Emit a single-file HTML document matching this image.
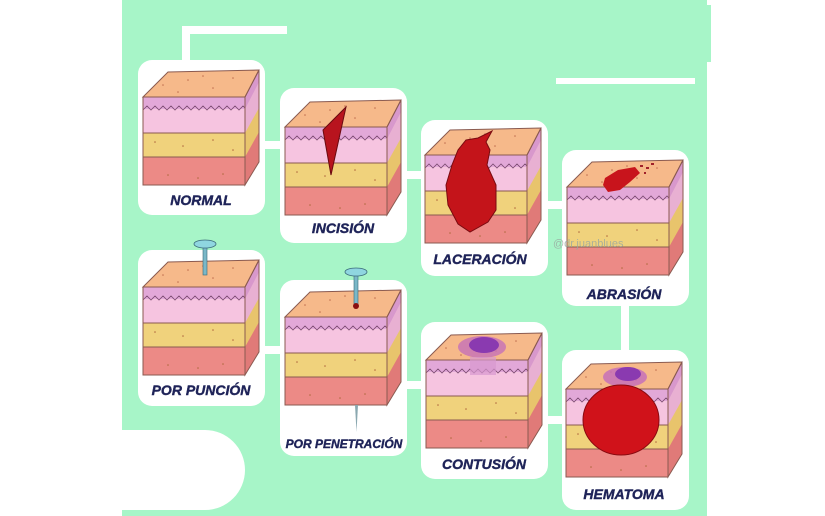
<!DOCTYPE html>
<html><head><meta charset="utf-8"><style>
html,body{margin:0;padding:0;background:#fff;width:825px;height:516px;overflow:hidden}
svg{display:block}
.l{font-family:"Liberation Sans",sans-serif;font-weight:bold;font-style:italic;font-size:14px;fill:#1e2358;stroke:#1e2358;stroke-width:0.4;text-anchor:middle}
</style></head><body>
<svg width="825" height="516" viewBox="0 0 825 516" xmlns="http://www.w3.org/2000/svg">
<defs>
<g id="blk">
  <rect x="0" y="27" width="102" height="88" fill="#ec8a86"/>
  <rect x="0" y="27" width="102" height="60" fill="#f0d27c"/>
  <rect x="0" y="27" width="102" height="36" fill="#f6c4e0"/>
  <rect x="0" y="27" width="102" height="12" fill="#e2a8d8"/>
  <path d="M0 40 l4 -4 4 4 4 -4 4 4 4 -4 4 4 4 -4 4 4 4 -4 4 4 4 -4 4 4 4 -4 4 4 4 -4 4 4 4 -4 4 4 4 -4 4 4 4 -4 4 4 4 -4 4 4 4 -4 4 4 4 -4 4 4" fill="none" stroke="#7a4a70" stroke-width="0.8"/>
  <line x1="0" y1="63" x2="102" y2="63" stroke="#8a5a50" stroke-width="1"/>
  <line x1="0" y1="87" x2="102" y2="87" stroke="#8a5a50" stroke-width="1"/>
  <polygon points="102,27 116,0 116,92 102,115" fill="#e07a78"/>
  <polygon points="102,27 116,0 116,62 102,87" fill="#e8c46c"/>
  <polygon points="102,27 116,0 116,38 102,63" fill="#e8b0d2"/>
  <polygon points="102,27 116,0 116,12 102,39" fill="#d898cc"/>
  <polygon points="0,27 25,2 116,0 102,27" fill="#f6b98a" stroke="#8a5a50" stroke-width="1"/>
  <rect x="0" y="27" width="102" height="88" fill="none" stroke="#8a5a50" stroke-width="1"/>
  <polygon points="102,27 116,0 116,92 102,115" fill="none" stroke="#8a5a50" stroke-width="1"/>
  <g fill="#c07050"><circle cx="20" cy="15" r=".8"/><circle cx="45" cy="10" r=".8"/><circle cx="70" cy="18" r=".8"/><circle cx="90" cy="8" r=".8"/><circle cx="60" cy="6" r=".8"/><circle cx="35" cy="22" r=".8"/></g>
  <g fill="#b06a40"><circle cx="12" cy="72" r=".8"/><circle cx="40" cy="76" r=".8"/><circle cx="70" cy="70" r=".8"/><circle cx="90" cy="80" r=".8"/><circle cx="25" cy="105" r=".8"/><circle cx="55" cy="108" r=".8"/><circle cx="80" cy="104" r=".8"/></g>
</g>
</defs>
<rect x="122" y="0" width="585" height="516" fill="#a7f5c8"/>
<rect x="700" y="5" width="11" height="57" fill="#a7f5c8"/>
<path d="M186 60 V30 H287" fill="none" stroke="#fff" stroke-width="8"/>
<rect x="556" y="78" width="139" height="6" fill="#fff"/>
<path d="M122 430 H205 a40 40 0 0 1 0 80 H122 Z" fill="#fff"/>
<g stroke="#fff" stroke-width="8">
<line x1="262" y1="145" x2="284" y2="145"/>
<line x1="402" y1="175" x2="425" y2="175"/>
<line x1="544" y1="205" x2="566" y2="205"/>
<line x1="262" y1="350" x2="284" y2="350"/>
<line x1="402" y1="385" x2="425" y2="385"/>
<line x1="544" y1="420" x2="566" y2="420"/>
<line x1="625" y1="302" x2="625" y2="353"/>
</g>
<g fill="#fff">
<rect x="138" y="60" width="127" height="155" rx="14"/>
<rect x="280" y="88" width="127" height="155" rx="14"/>
<rect x="421" y="120" width="127" height="156" rx="14"/>
<rect x="562" y="150" width="127" height="156" rx="14"/>
<rect x="138" y="250" width="127" height="156" rx="14"/>
<rect x="280" y="280" width="127" height="176" rx="14"/>
<rect x="421" y="322" width="127" height="157" rx="14"/>
<rect x="562" y="350" width="127" height="160" rx="14"/>
</g>
<use href="#blk" x="143" y="70"/>
<use href="#blk" x="285" y="100"/>
<use href="#blk" x="425" y="128"/>
<use href="#blk" x="567" y="160"/>
<use href="#blk" x="143" y="260"/>
<use href="#blk" x="285" y="290"/>
<use href="#blk" x="426" y="333"/>
<use href="#blk" x="566" y="362"/>
<polygon points="323,130 346,107 331,175" fill="#b8141e" stroke="#6a0a10" stroke-width="1"/>
<path d="M466 140 L478 138 L492 131 L486 142 L490 150 L487 165 L496 185 L496 210 L488 222 L470 232 L458 224 L448 205 L446 185 L452 165 L458 150 Z" fill="#c4141a" stroke="#7a0a10" stroke-width="1"/>
<path d="M605 178 L618 170 L635 167 L640 173 L630 182 L620 190 L608 192 L603 185 Z" fill="#c8141c"/>
<g fill="#a0202a"><rect x="640" y="165" width="3" height="2"/><rect x="646" y="167" width="3" height="2"/><rect x="644" y="172" width="2" height="2"/><rect x="651" y="163" width="3" height="2"/></g>
<rect x="203" y="245" width="4" height="30" fill="#7ab8c8" stroke="#3a6a7a" stroke-width=".6"/>
<ellipse cx="205" cy="244" rx="11" ry="4" fill="#8fd6e0" stroke="#3a6a7a" stroke-width=".8"/>
<rect x="354" y="272" width="4" height="32" fill="#7ab8c8" stroke="#3a6a7a" stroke-width=".6"/>
<ellipse cx="356" cy="272" rx="11" ry="4" fill="#8fd6e0" stroke="#3a6a7a" stroke-width=".8"/>
<circle cx="356" cy="306" r="3" fill="#8a1010"/>
<polygon points="355,405 358,405 356.5,432" fill="#8aa8b0"/>
<ellipse cx="482" cy="347" rx="24" ry="11" fill="#c670b8" opacity=".8"/>
<ellipse cx="484" cy="345" rx="15" ry="8" fill="#8a3ab0"/>
<rect x="470" y="357" width="26" height="18" fill="#d898d0" opacity=".7"/>
<ellipse cx="625" cy="377" rx="22" ry="10" fill="#c670b8" opacity=".85"/>
<ellipse cx="628" cy="374" rx="13" ry="7" fill="#8a3ab0"/>
<ellipse cx="621" cy="420" rx="38" ry="35" fill="#d0121a" stroke="#8a0a10" stroke-width="1"/>
<text x="553" y="247" font-family="Liberation Sans,sans-serif" font-size="11" fill="#9aa8a0" opacity=".8">@dr.juanblues</text>
<text class="l" x="201" y="205">NORMAL</text>
<text class="l" x="343" y="233">INCISIÓN</text>
<text class="l" x="480" y="264">LACERACIÓN</text>
<text class="l" x="624" y="299">ABRASIÓN</text>
<text class="l" x="201" y="395">POR PUNCIÓN</text>
<text class="l" x="344" y="448" style="font-size:12px">POR PENETRACIÓN</text>
<text class="l" x="484" y="469">CONTUSIÓN</text>
<text class="l" x="624" y="499">HEMATOMA</text>
</svg>
</body></html>
